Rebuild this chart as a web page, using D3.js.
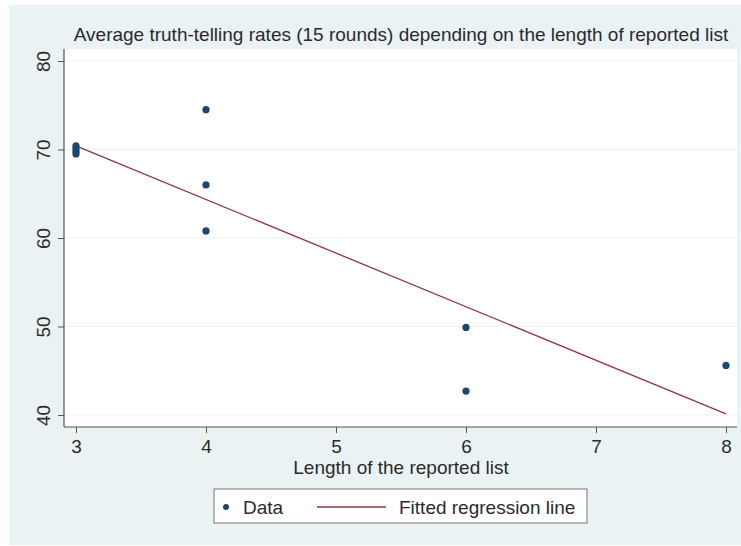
<!DOCTYPE html>
<html>
<head>
<meta charset="utf-8">
<script src="https://cdn.jsdelivr.net/npm/d3@7"></script>
<style>
  html, body { margin: 0; padding: 0; background: #ffffff; }
  svg { display: block; font-family: "Liberation Sans", Arial, sans-serif; }
</style>
</head>
<body>
<svg id="chart" width="741" height="546"></svg>
<script>
// ---- Data ----
const titleText = "Average truth-telling rates (15 rounds) depending on the length of reported list";
const xTitle = "Length of the reported list";
const listLength = [3, 3, 3, 3, 4, 4, 4, 6, 6, 8];
const truthRate  = [70.4, 70.1, 69.8, 69.5, 74.5, 66.0, 60.8, 49.9, 42.7, 45.6];
const xTicks = [3, 4, 5, 6, 7, 8];
const yTicks = [40, 50, 60, 70, 80];
const legendLabels = ["Data", "Fitted regression line"];

// ---- Colours ----
const bg = "#eaf2f3";
const navy = "#1a476f";
const maroon = "#90353b";
const axisCol = "#555555";
const textCol = "#2b2b2b";
const fs = 19;

const svg = d3.select("#chart");

// outer background
svg.append("rect").attr("x", 9).attr("y", 5).attr("width", 732).attr("height", 540).attr("fill", bg);

// plot region
const plot = { left: 64, right: 737, top: 49, bottom: 427 };
svg.append("rect").attr("x", plot.left).attr("y", plot.top)
  .attr("width", plot.right - plot.left).attr("height", plot.bottom - plot.top)
  .attr("fill", "#ffffff");

const x = d3.scaleLinear().domain([3, 8]).range([76, 726]);
const y = d3.scaleLinear().domain([40, 80]).range([415, 61]);

// gridlines
svg.append("g").selectAll("line").data(yTicks).join("line")
  .attr("x1", plot.left + 1).attr("x2", plot.right)
  .attr("y1", d => y(d)).attr("y2", d => y(d))
  .attr("stroke", bg).attr("stroke-width", 1.2);

// y axis
const yAxis = svg.append("g").attr("transform", `translate(${plot.left},0)`)
  .call(d3.axisLeft(y).tickValues(yTicks).tickSize(6).tickPadding(9).tickFormat(d3.format("d")));
yAxis.attr("font-size", null);
yAxis.select(".domain").remove();
yAxis.append("line").attr("x1", 0).attr("x2", 0).attr("y1", plot.top).attr("y2", plot.bottom)
  .attr("stroke", axisCol).attr("stroke-width", 1.2);
yAxis.selectAll(".tick line").attr("stroke", axisCol);
yAxis.selectAll(".tick text")
  .attr("fill", textCol).style("font-size", fs + "px")
  .attr("transform", "rotate(-90)")
  .attr("x", 0).attr("y", -14).attr("dy", 0)
  .attr("text-anchor", "middle");

// x axis
const xAxis = svg.append("g").attr("transform", `translate(0,${plot.bottom})`)
  .call(d3.axisBottom(x).tickValues(xTicks).tickSize(6).tickPadding(6).tickFormat(d3.format("d")));
xAxis.attr("font-size", null);
xAxis.select(".domain").remove();
xAxis.append("line").attr("x1", plot.left).attr("x2", plot.right).attr("y1", 0).attr("y2", 0)
  .attr("stroke", axisCol).attr("stroke-width", 1.2);
xAxis.selectAll(".tick line").attr("stroke", axisCol);
xAxis.selectAll(".tick text").attr("fill", textCol).style("font-size", fs + "px")
  .attr("dy", null).attr("y", 26);

// regression (OLS from data)
const pts = listLength.map((v, i) => ({ x: v, y: truthRate[i] }));
const mx = d3.mean(pts, d => d.x), my = d3.mean(pts, d => d.y);
const slope = d3.sum(pts, d => (d.x - mx) * (d.y - my)) / d3.sum(pts, d => (d.x - mx) ** 2);
const intercept = my - slope * mx;
const xr = d3.extent(listLength);
const fit = xr.map(v => ({ x: v, y: intercept + slope * v }));
svg.append("path").datum(fit)
  .attr("d", d3.line().x(d => x(d.x)).y(d => y(d.y)))
  .attr("fill", "none").attr("stroke", maroon).attr("stroke-width", 1.3);

// points
svg.append("g").selectAll("circle").data(pts).join("circle")
  .attr("cx", d => x(d.x)).attr("cy", d => y(d.y)).attr("r", 3.6)
  .attr("fill", navy);

// title
svg.append("text").attr("x", 401).attr("y", 41).attr("text-anchor", "middle")
  .style("font-size", fs + "px").attr("fill", textCol).text(titleText);

// x title
svg.append("text").attr("x", 401).attr("y", 474).attr("text-anchor", "middle")
  .style("font-size", fs + "px").attr("fill", textCol).text(xTitle);

// legend
const lg = svg.append("g");
lg.append("rect").attr("x", 214).attr("y", 489).attr("width", 373).attr("height", 34)
  .attr("fill", "#ffffff").attr("stroke", "#777777").attr("stroke-width", 1);
lg.append("circle").attr("cx", 226).attr("cy", 507).attr("r", 3).attr("fill", navy);
lg.append("text").attr("x", 243).attr("y", 514).style("font-size", fs + "px").attr("fill", textCol).text(legendLabels[0]);
lg.append("line").attr("x1", 317).attr("x2", 386).attr("y1", 507).attr("y2", 507)
  .attr("stroke", maroon).attr("stroke-width", 1.3);
lg.append("text").attr("x", 399).attr("y", 514).style("font-size", fs + "px").attr("fill", textCol).text(legendLabels[1]);
</script>
</body>
</html>
